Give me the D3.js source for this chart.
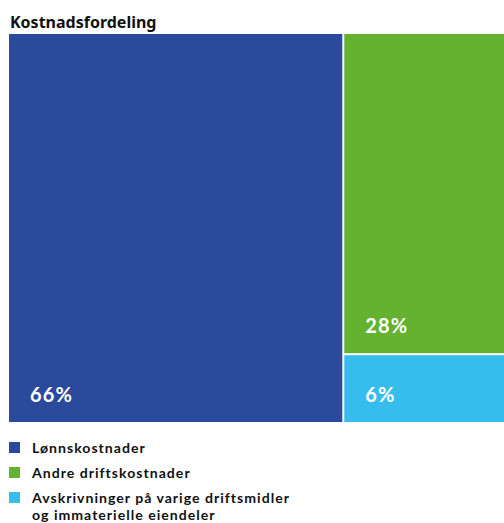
<!DOCTYPE html>
<html><head><meta charset="utf-8">
<script src="https://cdn.jsdelivr.net/npm/d3@7"></script>
<style>html,body{margin:0;padding:0;background:#fff;overflow:hidden}</style>
</head><body>
<svg id="chart" width="504" height="523"></svg>
<script>
const title = "Kostnadsfordeling";
const categories = ["Lønnskostnader", "Andre driftskostnader", "Avskrivninger på varige driftsmidler og immaterielle eiendeler"];
const legendLines = [["Lønnskostnader"], ["Andre driftskostnader"], ["Avskrivninger på varige driftsmidler", "og immaterielle eiendeler"]];
const values = [66, 28, 6];
const colors = ["#2b4a9b", "#64b22f", "#36bdee"];

const svg = d3.select("#chart");
const font = "'Noto Sans', 'Open Sans', sans-serif";

svg.append("text").attr("x", 10).attr("y", 28)
  .attr("font-family", font).attr("font-weight", 700).attr("font-size", 16)
  .attr("fill", "#111").text(title);

const root = d3.hierarchy({children: categories.map((c, i) => ({name: c, value: values[i], i}))})
  .sum(d => d.value || 0);
const W = 506, H = 388, X0 = 9, Y0 = 34;
d3.treemap().size([W, H]).paddingInner(2).tile(d3.treemapSquarify)(root);

const g = svg.append("g").attr("transform", `translate(${X0},${Y0})`);
const leaves = g.selectAll("g.leaf").data(root.leaves()).join("g").attr("class", "leaf");
leaves.append("rect")
  .attr("x", d => d.x0).attr("y", d => d.y0)
  .attr("width", d => d.x1 - d.x0).attr("height", d => d.y1 - d.y0)
  .attr("fill", d => colors[d.data.i]);
leaves.append("text")
  .attr("x", d => d.x0 + 21).attr("y", d => d.y1 - 20)
  .attr("font-family", "Lato, 'Open Sans', sans-serif").attr("font-weight", 700).attr("font-size", 20)
  .attr("fill", "#fff").attr("letter-spacing", 1.2)
  .text(d => d.data.value + "%");

const leg = svg.append("g");
let y = 442;
legendLines.forEach((lines, i) => {
  leg.append("rect").attr("x", 9).attr("y", y).attr("width", 11).attr("height", 11).attr("fill", colors[i]);
  lines.forEach((s, j) => {
    leg.append("text").attr("x", 32).attr("y", y + 10.5 + j * 17)
      .attr("font-family", "Lato, sans-serif").attr("font-weight", 700).attr("font-size", 14.1)
      .attr("letter-spacing", 1.0)
      .attr("fill", "#111").text(s);
  });
  y += 25;
});
</script>
</body></html>
